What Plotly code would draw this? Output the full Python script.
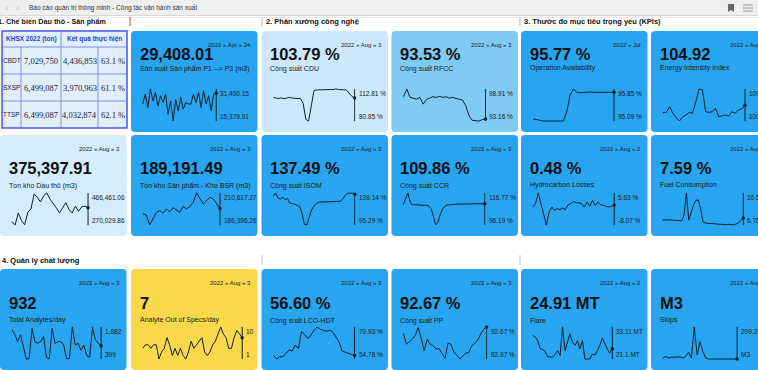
import plotly.graph_objects as go

W, H = 758, 370

# ---------------- data ----------------
tbl_codes = ["CBDT", "SXSP", "TTSP"]
tbl_plan = [7029750, 6499087, 6499087]
tbl_actual = [4436853, 3970963, 4032874]
tbl_pct = [63.1, 61.1, 62.1]

p1p3 = [23870, 28837, 22108, 31400.15, 25473, 29638, 22909, 28036, 24671, 28837, 18744, 25473,
        15379.91, 26274, 20506, 27235, 21307, 24671, 23870, 23950, 28837, 24671, 29638, 22108,
        30599, 23870, 28036, 20506, 28837, 29408.01]
cdu = [104.3, 103.8, 103.3, 104.0, 103.1, 103.8, 104.4, 103.7, 103.6, 103.5, 103.2, 98.5, 82.5,
       80.85, 96.0, 111.2, 111.8, 112.0, 111.9, 112.2, 112.0, 112.3, 112.1, 112.81, 112.2, 112.3,
       112.0, 111.7, 108.5, 105.3, 103.79]
rfcc = [97.52, 98.91, 97.40, 97.27, 97.09, 97.40, 96.19, 97.03, 97.27, 97.52, 97.40, 97.58, 97.40,
        97.52, 97.27, 97.40, 97.21, 97.03, 96.91, 95.88, 94.07, 93.28, 93.28, 93.16, 93.40, 93.53]
op_avail = [95.14, 95.13, 95.11, 95.09, 95.09, 95.09, 95.09, 95.09, 95.09, 95.09, 95.31, 95.71,
            95.85, 95.77, 95.76, 95.77, 95.77, 95.78, 95.77, 95.77, 95.77, 95.78, 95.77, 95.77, 95.77]
energy = [102.72, 102.82, 104.52, 102.52, 101.21, 100.21, 101.51, 102.02, 102.82, 102.52, 106.03,
          109.84, 109.6, 103.02, 102.82, 103.02, 104.02, 101.51, 101.81, 102.02, 101.71, 103.02,
          102.52, 103.52, 103.82, 104.92]
crude_stock = [291152, 270029.86, 343957, 297488, 271500, 348181, 369303, 460127, 439005, 411546,
               449566, 466461.06, 428444, 403098, 375640, 343957, 375640, 407322, 365078, 343957,
               386200, 354517, 381975, 386200, 375397.91]
product_stock = [181596, 180214, 166396.26, 174687, 183899, 186202, 182978, 188505, 184820, 190348,
                 187584, 183899, 192190, 188505, 192190, 197717, 210617.27, 202323, 195414, 200020,
                 204626, 202323, 195414, 189191.49]
isom = [134.53, 139.14, 132.22, 130.83, 133.14, 129.91, 131.5, 125.29, 124.5, 123.91, 122.06,
        120.68, 111.45, 96.21, 95.29, 104.52, 116.06, 121.5, 124.5, 126.68, 126.68, 126.9, 127.14,
        127.14, 127.3, 127.6, 127.14, 127.3, 127.6, 131.0, 136.0, 138.68, 139.14, 138.9, 137.49]
ccr = [109.21, 112.99, 116.77, 110.89, 109.21, 109.21, 109.0, 109.21, 108.9, 108.79, 109.0, 108.3,
       106.69, 101.44, 96.19, 98.29, 103.54, 106.69, 108.37, 109.0, 109.21, 109.5, 109.6, 109.63,
       109.63, 109.65, 109.63, 109.7, 109.7, 109.72, 109.75, 109.75, 109.78, 109.8, 109.82, 109.86]
hc_losses = [-0.38, 1.02, 5.63, 1.02, -4.57, -8.07, -2.48, -0.38, -1.78, -1.08, -1.5, -0.8, -1.5,
             0.6, 1.02, 2.0, 1.44, 1.44, 1.02, -0.38, 1.72, 0.04, 2.42, 0.32, 1.72, 0.6, 0.32,
             0.04, -0.38, -0.1, 0.48]
fuel = [7.34, 7.37, 7.41, 7.38, 7.34, 7.34, 7.34, 7.30, 7.26, 7.91, 10.53, 7.34, 8.3, 9.1, 9.65,
        9.72, 8.68, 7.14, 6.98, 6.95, 6.92, 6.9, 6.86, 6.84, 6.8, 6.78, 6.76, 6.8, 6.84, 6.82,
        6.78, 6.9, 7.03, 7.3, 7.59]
analytes = [1585, 1376, 1097, 1376, 887, 399, 412, 1627, 1097, 1027, 1097, 1306, 469, 405, 1627,
            1027, 1097, 1097, 957, 399, 427, 1682, 957, 1027, 748, 957, 538, 469, 1670, 1166,
            1027, 932]
out_of_spec = [4, 5, 5, 4, 5, 5, 1, 3, 4, 7, 5, 2, 4, 2, 4, 2, 1, 3, 6, 4, 5, 6, 7, 3, 2, 3, 5,
               6, 8, 10, 8, 7, 4, 4, 7, 9, 8, 7]
lco_hdt = [56.78, 54.78, 55.95, 55.95, 57.61, 59.28, 58.78, 61.77, 60.11, 68.77, 67.10, 65.10,
           66.77, 69.26, 70.93, 69.77, 69.26, 68.77, 69.26, 68.43, 65.94, 63.44, 58.78, 58.11,
           57.61, 57.11, 56.60]
pp = [90.77, 87.47, 88.17, 88.97, 90.17, 92.47, 89.17, 85.47, 88.97, 87.47, 86.97, 85.97, 86.17,
      84.77, 83.17, 87.77, 87.47, 84.97, 84.17, 82.97, 83.97, 84.77, 84.97, 86.97, 87.77, 88.77,
      90.47, 91.97, 92.67]
flare = [29.95, 29.32, 28.05, 24.89, 24.64, 23.88, 21.98, 21.73, 21.73, 22.99, 24.26, 22.36, 33.11,
         24.26, 27.42, 30.58, 27.42, 26.16, 28.05, 24.89, 28.05, 21.1, 21.1, 21.1, 22.99, 22.62,
         24.26, 26.16, 28.94, 26.79, 24.89, 23.38, 24.91]
slops = [6.4, 17.1, 6.4, 12.8, 10.7, 12.8, 14.9, 6.4, 17.1, 44.8, 6.4, 209.23, 27.8, 113.2, 49.1,
         6.4, 0, 0, 0, 0, 0, 0, 0, 0, 0, 0, 0]

# ---------------- styling / layout ----------------
SANS = "Liberation Sans, Arial, sans-serif"
SERIF = "Liberation Serif, Times New Roman, serif"
BLUE = "#28a5f0"
PALE = "#cde8fb"
MID = "#80caf6"
PALE2 = "#d4ecfc"
YELLOW = "#f9d84a"
COLX = [0, 131, 261.5, 391.5, 521, 651]
ROWT = [31, 135, 269]
ROW_VALUE_DY = [23, 33, 34]
ROW_LABEL_DY = [37, 50, 51]
CW, CH = 126.5, 101

f2 = lambda v: f"{v:,.2f}"
fp = lambda v: f"{v:.2f} %"
fi = lambda v: f"{v:,.0f}"
fmt_mt = lambda v: f"{v:g} MT"
fm3 = lambda v: f"{v:g} M3" if v else "M3"

cards = [
    dict(s=p1p3, v="29,408.01", lab="Sản xuất Sản phẩm P1 --> P3 (m3)", d="2022 » Apr » 24", f=f2, c=1, r=0, bg=BLUE, vx=86),
    dict(s=cdu, v="103.79 %", lab="Công suất CDU", d="2022 » Aug » 3", f=fp, c=2, r=0, bg=PALE, vx=94),
    dict(s=rfcc, v="93.53 %", lab="Công suất RFCC", d="2022 » Aug » 3", f=fp, c=3, r=0, bg=MID, vx=95),
    dict(s=op_avail, v="95.77 %", lab="Operation Availability", d="2022 » Jul", f=fp, c=4, r=0, bg=BLUE, vx=94),
    dict(s=energy, v="104.92", lab="Energy Intensity Index", d="2022 » Aug » 3", f=f2, c=5, r=0, bg=BLUE, vx=95),
    dict(s=crude_stock, v="375,397.91", lab="Tồn kho Dầu thô (m3)", d="2022 » Aug » 3", f=f2, c=0, r=1, bg=PALE2, vx=89),
    dict(s=product_stock, v="189,191.49", lab="Tồn kho Sản phẩm - Kho BSR (m3)", d="2022 » Aug » 3", f=f2, c=1, r=1, bg=BLUE, vx=90),
    dict(s=isom, v="137.49 %", lab="Công suất ISOM", d="2022 » Aug » 3", f=fp, c=2, r=1, bg=BLUE, vx=94),
    dict(s=ccr, v="109.86 %", lab="Công suất CCR", d="2022 » Aug » 3", f=fp, c=3, r=1, bg=BLUE, vx=94),
    dict(s=hc_losses, v="0.48 %", lab="Hydrocarbon Losses", d="2022 » Aug » 2", f=fp, c=4, r=1, bg=BLUE, vx=94),
    dict(s=fuel, v="7.59 %", lab="Fuel Consumption", d="2022 » Aug » 3", f=fp, c=5, r=1, bg=BLUE, vx=93),
    dict(s=analytes, v="932", lab="Total Analytes/day", d="2022 » Aug » 3", f=fi, c=0, r=2, bg=BLUE, vx=102),
    dict(s=out_of_spec, v="7", lab="Analyte Out of Specs/day", d="2022 » Aug » 3", f=fi, c=1, r=2, bg=YELLOW, vx=112),
    dict(s=lco_hdt, v="56.60 %", lab="Công suất LCO-HDT", d="2022 » Aug » 3", f=fp, c=2, r=2, bg=BLUE, vx=94),
    dict(s=pp, v="92.67 %", lab="Công suất PP", d="2022 » Aug » 3", f=fp, c=3, r=2, bg=BLUE, vx=96),
    dict(s=flare, v="24.91 MT", lab="Flare", d="2022 » Aug » 2", f=fmt_mt, c=4, r=2, bg=BLUE, vx=92),
    dict(s=slops, v="M3", lab="Slops", d="2022 » Aug » 3", f=fm3, c=5, r=2, bg=BLUE, vx=87),
]

shapes, annotations = [], []


def P(xp, yp):
    return f"{xp / W:.5f},{1 - yp / H:.5f}"


def rrect(x0, y0, x1, y1, color, r=4):
    path = (f"M {P(x0 + r, y0)} L {P(x1 - r, y0)} Q {P(x1, y0)} {P(x1, y0 + r)} "
            f"L {P(x1, y1 - r)} Q {P(x1, y1)} {P(x1 - r, y1)} L {P(x0 + r, y1)} "
            f"Q {P(x0, y1)} {P(x0, y1 - r)} L {P(x0, y0 + r)} Q {P(x0, y0)} {P(x0 + r, y0)} Z")
    shapes.append(dict(type="path", path=path, xref="paper", yref="paper", fillcolor=color,
                       line=dict(width=0), layer="below"))


def rect(x0, y0, x1, y1, color):
    shapes.append(dict(type="rect", xref="paper", yref="paper", x0=x0 / W, x1=x1 / W,
                       y0=1 - y1 / H, y1=1 - y0 / H, fillcolor=color,
                       line=dict(width=0), layer="below"))


def hline(x0, x1, y, color, w=1):
    shapes.append(dict(type="line", xref="paper", yref="paper", x0=x0 / W, x1=x1 / W,
                       y0=1 - y / H, y1=1 - y / H, line=dict(color=color, width=w)))


def vline(x, y0, y1, color, w=1):
    shapes.append(dict(type="line", xref="paper", yref="paper", x0=x / W, x1=x / W,
                       y0=1 - y0 / H, y1=1 - y1 / H, line=dict(color=color, width=w)))


def text(x, y, s, size, color="#111", xa="left", bold=False, fam=SANS, ya="middle"):
    annotations.append(dict(x=x / W, y=1 - y / H, xref="paper", yref="paper",
                            text=f"<b>{s}</b>" if bold else s, showarrow=False, xanchor=xa,
                            yanchor=ya, font=dict(size=size, color=color, family=fam),
                            borderpad=0))


# top browser-like bar
rect(0, 0, W, 15, "#efefef")
hline(0, W, 15.5, "#d8d8d8")
hline(0, W, 17.5, "#ececec")
text(6, 7.5, "‹", 10, "#c0c0c0", xa="center")
text(17, 7.5, "›", 10, "#c0c0c0", xa="center")
text(28, 7.5, "Báo cáo quản trị thông minh - Công tác vận hành sản xuất", 6.5, "#333")
shapes.append(dict(type="path", xref="paper", yref="paper",
                   path=f"M {P(728, 4)} L {P(734, 4)} L {P(734, 12)} L {P(731, 10)} L {P(728, 12)} Z",
                   fillcolor="#666", line=dict(width=0)))
for yy in (5, 8, 11):
    hline(743, 753, yy, "#999", 1)

# section headers
text(-3, 21.5, "1. Chế biến Dầu thô - Sản phẩm", 7.2, "#111", bold=True)
vline(130, 17, 26, "#e77", 1.5)
vline(262, 17, 26, "#cfcfcf", 1.5)
text(265, 21.5, "2. Phân xưởng công nghệ", 7.5, "#111", bold=True)
vline(520, 17, 26, "#cfcfcf", 1.5)
text(523, 21.5, "3. Thước đo mục tiêu trọng yếu (KPIs)", 7.5, "#111", bold=True)
text(1, 260, "4. Quản lý chất lượng", 7.5, "#111", bold=True)
vline(262, 255, 265, "#d9d9d9", 1.5)
vline(520, 255, 265, "#d9d9d9", 1.5)

# table
TX = [2, 21, 61, 98, 127]
TY = [31, 47, 74, 101, 128]
rect(TX[0], TY[0], TX[-1], TY[-1], "#e1eefc")
for yy in TY[1:-1]:
    hline(TX[0], TX[-1], yy, "#7f8fe4", 1)
vline(TX[1], TY[1], TY[-1], "#7f8fe4", 1)
vline(TX[2], TY[0], TY[-1], "#7f8fe4", 1)
vline(TX[3], TY[1], TY[-1], "#7f8fe4", 1)
shapes.append(dict(type="rect", xref="paper", yref="paper", x0=TX[0] / W, x1=TX[-1] / W,
                   y0=1 - TY[-1] / H, y1=1 - TY[0] / H, line=dict(color="#4a55ee", width=1.5)))
text((TX[0] + TX[2]) / 2, (TY[0] + TY[1]) / 2, "KHSX 2022 (ton)", 6.5, "#2b3fd3", xa="center", bold=True)
text((TX[2] + TX[4]) / 2, (TY[0] + TY[1]) / 2, "Kết quả thực hiện", 6.5, "#2b3fd3", xa="center", bold=True)
for i in range(3):
    yc = (TY[i + 1] + TY[i + 2]) / 2
    text((TX[0] + TX[1]) / 2, yc, tbl_codes[i], 6.5, "#1a1a40", xa="center")
    text((TX[1] + TX[2]) / 2, yc, f"{tbl_plan[i]:,}", 8.5, "#1a1a40", xa="center", fam=SERIF)
    text((TX[2] + TX[3]) / 2, yc, f"{tbl_actual[i]:,}", 8.5, "#1a1a40", xa="center", fam=SERIF)
    text((TX[3] + TX[4]) / 2, yc, f"{tbl_pct[i]:.1f} %", 8.5, "#1a1a40", xa="center", fam=SERIF)

fig = go.Figure()
layout_axes = {}
for k, cd in enumerate(cards):
    n = k + 1
    X = COLX[cd["c"]]
    T = ROWT[cd["r"]]
    rrect(X, T, X + CW, T + CH, cd["bg"])
    text(X + 121, T + 14, cd["d"], 6, "#222", xa="right")
    text(X + 7.5, T + ROW_VALUE_DY[cd["r"]], cd["v"], 16.5, "#111", bold=True)
    text(X + 7.5, T + ROW_LABEL_DY[cd["r"]], cd["lab"], 7, "#1a1a1a")
    s = cd["s"]
    N = len(s)
    mn, mx = min(s), max(s)
    rg = mx - mn
    xs = list(range(N))
    xa_name = "x" if n == 1 else f"x{n}"
    ya_name = "y" if n == 1 else f"y{n}"
    x0p, x1p = X + 11, X + cd["vx"]
    layout_axes["xaxis" if n == 1 else f"xaxis{n}"] = dict(
        domain=[x0p / W, x1p / W], range=[-0.3, N - 1 + 0.3], visible=False,
        fixedrange=True, anchor=ya_name)
    layout_axes["yaxis" if n == 1 else f"yaxis{n}"] = dict(
        domain=[1 - (T + 91) / H, 1 - (T + 57) / H], range=[mn - 0.03 * rg, mx + 0.03 * rg],
        visible=False, fixedrange=True, anchor=xa_name)
    fig.add_trace(go.Scatter(x=xs, y=s, mode="lines", line=dict(color="#14202c", width=1),
                             xaxis=xa_name, yaxis=ya_name, hoverinfo="skip", showlegend=False))
    fig.add_trace(go.Scatter(x=[N - 1, N - 1], y=[mn, mx], mode="lines",
                             line=dict(color="#14202c", width=1), xaxis=xa_name, yaxis=ya_name,
                             hoverinfo="skip", showlegend=False))
    fig.add_trace(go.Scatter(x=[N - 1], y=[s[-1]], mode="markers",
                             marker=dict(color="#14202c", size=3.5), xaxis=xa_name, yaxis=ya_name,
                             hoverinfo="skip", showlegend=False, cliponaxis=False))
    for val, ya in ((mx, "top"), (mn, "bottom")):
        annotations.append(dict(x=(x1p + 2) / W, y=val, xref="paper", yref=ya_name,
                                text=cd["f"](val), showarrow=False, xanchor="left", yanchor=ya,
                                font=dict(size=6.5, color="#1a1a1a", family=SANS), borderpad=0))

fig.update_layout(
    width=W, height=H, autosize=False,
    margin=dict(l=0, r=0, t=0, b=0),
    paper_bgcolor="white", plot_bgcolor="rgba(0,0,0,0)",
    showlegend=False, shapes=shapes, annotations=annotations,
    **layout_axes,
)
fig.write_html("out.html", config={"displayModeBar": False},
               post_script="document.body.style.margin='0px';document.body.style.overflow='hidden';")
